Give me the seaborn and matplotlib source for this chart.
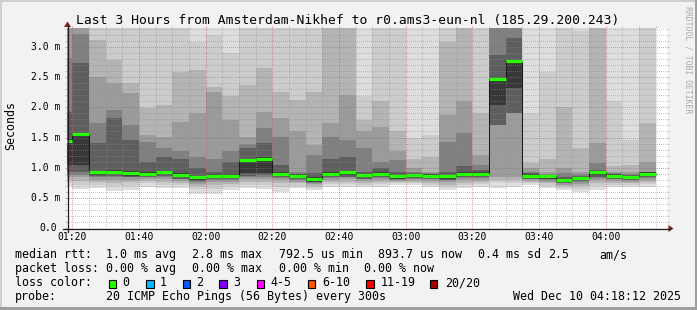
import numpy as np
import pandas as pd
import matplotlib
matplotlib.use("Agg")
import matplotlib.pyplot as plt
import seaborn as sns
from matplotlib.patches import Rectangle, Polygon
from matplotlib.lines import Line2D
import matplotlib.transforms as mtrans

# ---------------- data (values in ms) ----------------
interval_start = pd.date_range("2025-12-10 01:15", periods=36, freq="5min")

median_rtt = [1.45, 1.56, 0.92, 0.93, 0.91, 0.90, 0.93, 0.88, 0.84, 0.87, 0.87, 1.12,
              1.15, 0.90, 0.87, 0.81, 0.90, 0.92, 0.88, 0.90, 0.86, 0.88, 0.87, 0.86,
              0.90, 0.90, 2.47, 2.76, 0.87, 0.86, 0.80, 0.83, 0.92, 0.87, 0.85, 0.90]

# smoke bands, outermost (1) to innermost (7): upper and lower bounds
up1 = [3.4] * 36
up2 = [3.4, 3.4, 3.4, 3.4, 3.4, 3.4, 3.4, 3.4, 3.09, 3.20, 2.90, 3.4, 3.4, 3.4, 3.4, 3.4, 3.4, 3.4,
       2.18, 3.4, 3.4, 1.49, 1.54, 3.4, 3.4, 3.4, 3.4, 3.4, 1.90, 2.59, 3.4, 3.26, 3.4, 2.10, 1.46, 3.4]
up3 = [3.4, 3.4, 3.12, 2.79, 2.40, 1.99, 2.04, 2.59, 2.62, 2.34, 2.18, 2.37, 2.65, 2.26, 2.12, 2.26, 3.4, 3.4,
       1.79, 2.10, 1.60, 1.15, 1.18, 3.09, 3.4, 1.90, 3.4, 3.4, 1.07, 1.15, 2.01, 1.32, 3.4, 1.02, 1.04, 1.74]
up4 = [3.4, 3.4, 2.51, 2.40, 2.23, 1.54, 1.51, 1.76, 1.90, 2.26, 1.79, 1.51, 1.93, 1.82, 1.60, 1.38, 1.74, 2.21,
       1.60, 1.68, 1.27, 0.99, 0.93, 1.87, 2.10, 1.21, 3.4, 3.4, 0.99, 0.93, 0.99, 0.93, 1.41, 0.93, 0.93, 1.10]
up5 = [2.81, 3.21, 1.74, 1.96, 1.71, 1.43, 1.32, 1.27, 1.18, 1.15, 1.27, 1.40, 1.65, 1.51, 0.93, 1.21, 1.51, 1.46,
       1.32, 1.10, 1.13, 0.93, 0.91, 1.43, 1.57, 1.04, 3.4, 3.4, 0.93, 0.90, 0.91, 0.90, 1.07, 0.91, 0.90, 0.93]
up6 = [1.93, 2.74, 1.41, 1.82, 1.46, 1.10, 1.18, 1.15, 0.99, 0.93, 1.10, 1.32, 1.41, 1.04, 0.90, 0.91, 1.15, 1.18,
       0.93, 0.99, 0.93, 0.91, 0.89, 0.93, 1.02, 0.96, 2.87, 3.15, 0.91, 0.88, 0.85, 0.87, 0.96, 0.89, 0.88, 0.92]
up7 = [1.47, 1.58, 0.95, 0.96, 0.94, 0.92, 0.95, 0.91, 0.87, 0.89, 0.89, 1.14, 1.17, 0.92, 0.89, 0.84, 0.92, 0.94,
       0.90, 0.92, 0.88, 0.90, 0.89, 0.88, 0.92, 0.92, 2.49, 2.78, 0.89, 0.88, 0.82, 0.85, 0.94, 0.89, 0.87, 0.92]

lo7 = [1.04, 1.04, .88, .89, .87, .86, .89, .84, .80, .83, .83, .91, .91, .86, .83, .77, .86, .88,
       .84, .86, .82, .84, .83, .82, .86, .86, 2.04, 2.32, .83, .82, .76, .79, .88, .83, .81, .86]
lo6 = [.93, .93, .86, .86, .85, .85, .86, .82, .78, .81, .81, .87, .88, .84, .81, .76, .84, .85,
       .82, .84, .81, .83, .82, .80, .84, .84, 1.71, 1.90, .82, .81, .75, .78, .85, .82, .80, .84]
lo5 = [.88, .88, .84, .85, .84, .84, .85, .81, .77, .80, .80, .84, .85, .83, .80, .75, .83, .84,
       .81, .83, .80, .82, .81, .79, .83, .83, 1.71, 1.90, .81, .80, .74, .77, .83, .81, .79, .83]
lo4 = [.84, .84, .80, .80, .80, .81, .81, .78, .73, .76, .77, .81, .82, .79, .77, .73, .80, .81,
       .78, .80, .78, .79, .78, .76, .79, .80, .85, .85, .79, .77, .72, .73, .79, .78, .77, .80]
lo3 = [.80, .78, .77, .75, .76, .78, .77, .75, .69, .71, .73, .77, .77, .74, .74, .70, .77, .77,
       .75, .77, .76, .77, .75, .72, .75, .77, .80, .80, .77, .74, .70, .69, .74, .75, .74, .77]
lo2 = [.75, .72, .72, .70, .70, .74, .72, .71, .64, .65, .69, .72, .72, .68, .70, .67, .73, .73,
       .72, .73, .74, .74, .72, .68, .71, .73, .76, .75, .74, .70, .67, .65, .69, .72, .71, .73]
lo1 = [.70, .65, .66, .62, .63, .68, .66, .66, .57, .57, .63, .66, .64, .60, .66, .63, .68, .68,
       .68, .68, .71, .71, .68, .63, .66, .68, .66, .68, .71, .66, .63, .60, .63, .68, .68, .68]

y_tick_values = [0.0, 0.5, 1.0, 1.5, 2.0, 2.5, 3.0]
y_tick_labels = ["0.0", "0.5 m", "1.0 m", "1.5 m", "2.0 m", "2.5 m", "3.0 m"]
x_tick_labels = ["01:20", "01:40", "02:00", "02:20", "02:40", "03:00", "03:20", "03:40", "04:00"]

title = "Last 3 Hours from Amsterdam-Nikhef to r0.ams3-eun-nl (185.29.200.243)"
rtt_texts = ["median rtt:", "1.0 ms avg", "2.8 ms max", "792.5 us min", "893.7 us now",
             "0.4 ms sd", "2.5", "am/s"]
loss_texts = ["packet loss:", "0.00 % avg", "0.00 % max", "0.00 % min", "0.00 % now"]
loss_labels = ["0", "1", "2", "3", "4-5", "6-10", "11-19", "20/20"]
loss_colors = ["#26ff00", "#00b8ff", "#0059ff", "#7e00ff", "#ff00ff", "#ff5500", "#ff0000", "#a10000"]
probe_texts = ["probe:", "20 ICMP Echo Pings (56 Bytes) every 300s"]
stamp = "Wed Dec 10 04:18:12 2025"

# ---------------- figure ----------------
W, H = 697, 310
plt.rcParams["font.family"] = ["DejaVu Sans Mono"]
fig = plt.figure(figsize=(W / 100, H / 100), dpi=100, facecolor="#f2f2f2")

def fx(x):
    return x / W

def fy(y):
    return 1 - y / H

PX0, PX1, PY0, PY1 = 67, 667, 228, 28
ax = fig.add_axes([fx(PX0), fy(PY0), (PX1 - PX0) / W, (PY0 - PY1) / H])
ax.set_facecolor("#ffffff")

xs = (interval_start.hour * 60 + interval_start.minute).to_numpy(float)
edges = np.append(xs, xs[-1] + 5)
XMIN, XMAX = 78.4, 258.4
YMAX = 3.315
ax.set_xlim(XMIN, XMAX)
ax.set_ylim(0, YMAX)

def ext(a):
    a = np.asarray(a, float)
    return np.append(a, a[-1])

shades = ["#dddddd", "#cccccc", "#b4b4b4", "#9b9b9b", "#808080", "#5e5e5e", "#383838"]
for up, lo, c in zip([up1, up2, up3, up4, up5, up6, up7],
                     [lo1, lo2, lo3, lo4, lo5, lo6, lo7], shades):
    ax.fill_between(edges, ext(lo), ext(up), step="post", color=c, lw=0, zorder=1)

# median: thin dark step line + loss coloured segments
med_df = pd.DataFrame({"t": edges, "rtt": ext(median_rtt)})
sns.lineplot(data=med_df, x="t", y="rtt", drawstyle="steps-post", color="#1a1a1a",
             linewidth=0.75, ax=ax, zorder=4, legend=False)
ax.hlines(median_rtt, xs, xs + 5, colors=loss_colors[0], linewidth=2.3, zorder=5)

# grid (dotted, drawn over the smoke)
grid_c = (0.56, 0.56, 0.56, 0.45)
mgrid_c = (0.87, 0.31, 0.31, 0.55)
dash = (0, (1.0, 1.6))
for m in np.arange(80, XMAX, 5):
    major = (m % 20 == 0)
    ax.axvline(m, color=mgrid_c if major else grid_c, lw=0.72, ls=dash, zorder=3, antialiased=False)
for i in range(1, 34):
    v = i / 10
    major = (i % 5 == 0)
    ax.axhline(v, color=mgrid_c if major else grid_c, lw=0.72, ls=dash, zorder=3, antialiased=False)

for s in ax.spines.values():
    s.set_visible(False)
ax.set_xlabel("")
ax.set_ylabel("")
ax.set_xticks(np.arange(80, XMAX, 20))
ax.set_xticks(np.arange(80, XMAX, 5), minor=True)
ax.set_yticks(y_tick_values)
ax.set_yticks(np.arange(0.1, YMAX, 0.1), minor=True)
ax.tick_params(which="both", direction="out", labelleft=False, labelbottom=False,
               left=True, right=True, top=True, bottom=True, width=0.72)
ax.tick_params(which="major", length=1.5, color=mgrid_c)
ax.tick_params(which="minor", length=1.5, color=grid_c)

# axis lines and arrows
axis_c = "#1f1f1f"
arrow_c = "#801f1f"
fig.add_artist(Line2D([fx(63), fx(670)], [fy(228.5), fy(228.5)], color=axis_c, lw=0.9, transform=fig.transFigure))
fig.add_artist(Line2D([fx(67.5), fx(67.5)], [fy(232), fy(25)], color=axis_c, lw=0.9, transform=fig.transFigure))
fig.add_artist(Polygon([[fx(668.5), fy(225)], [fx(668.5), fy(232)], [fx(673.5), fy(228.5)]],
                       closed=True, color=arrow_c, transform=fig.transFigure, lw=0))
fig.add_artist(Polygon([[fx(64), fy(27)], [fx(71), fy(27)], [fx(67.5), fy(21.5)]],
                       closed=True, color=arrow_c, transform=fig.transFigure, lw=0))

# tick labels
tick_fs = 7.0
ytr = mtrans.blended_transform_factory(fig.transFigure, ax.transData)
for v, lab in zip(y_tick_values, y_tick_labels):
    xr = 57 if lab == "0.0" else 60.5
    fig.text(fx(xr), v, lab, transform=ytr, ha="right", va="center", fontsize=tick_fs)
xtr = mtrans.blended_transform_factory(ax.transData, fig.transFigure)
for m, lab in zip(np.arange(80, XMAX, 20), x_tick_labels):
    fig.text(m, fy(240), lab, transform=xtr, ha="center", va="baseline", fontsize=tick_fs)

# titles
fig.text(fx(347.2), fy(24), title, ha="center", va="baseline", fontsize=9.4)
fig.text(fx(10.8), fy(126), "Seconds", rotation=90, ha="center", va="center", fontsize=8.4)
fig.text(fx(688), fy(60), "RRDTOOL / TOBI OETIKER", rotation=270, ha="center", va="center",
         fontsize=5.9, color="#aaaaaa")

# legend block
lf = 8.4
for t, x in zip(rtt_texts, [16, 107, 193, 280, 379, 479, 549, 600]):
    fig.text(fx(x - 0.7), fy(258.3), t, ha="left", va="baseline", fontsize=lf)
for t, x in zip(loss_texts, [16, 107, 193, 280, 365]):
    fig.text(fx(x - 0.7), fy(272.3), t, ha="left", va="baseline", fontsize=lf)
fig.text(fx(16 - 0.7), fy(286.2), "loss color:", ha="left", va="baseline", fontsize=lf)
for lab, c, bx, tx in zip(loss_labels, loss_colors,
                          [108.5, 146, 182.5, 219.2, 256.8, 307.5, 366, 429.5],
                          [123.3, 160, 197.3, 234.3, 271.7, 322.7, 381, 445.7]):
    fig.add_artist(Rectangle((fx(bx), fy(287.5)), 7.5 / W, 8 / H, facecolor=c, edgecolor="black",
                             lw=0.8, transform=fig.transFigure))
    fig.text(fx(tx - 0.8), fy(286.2), lab, ha="left", va="baseline", fontsize=lf)
fig.text(fx(16 - 0.7), fy(300), probe_texts[0], ha="left", va="baseline", fontsize=lf)
fig.text(fx(107 - 0.7), fy(300), probe_texts[1], ha="left", va="baseline", fontsize=lf)
fig.text(fx(681), fy(300), stamp, ha="right", va="baseline", fontsize=lf)

# 3D frame
shadeA, shadeB = "#cfcfcf", "#9e9e9e"
fig.add_artist(Rectangle((0, 0), 2 / W, 1, facecolor=shadeA, lw=0, transform=fig.transFigure))
fig.add_artist(Rectangle((0, 1 - 2 / H), 1, 2 / H, facecolor=shadeA, lw=0, transform=fig.transFigure))
fig.add_artist(Rectangle((1 - 2 / W, 0), 2 / W, 1, facecolor=shadeB, lw=0, transform=fig.transFigure))
fig.add_artist(Rectangle((0, 0), 1, 3 / H, facecolor=shadeB, lw=0, transform=fig.transFigure))

fig.savefig("out.png", dpi=100, facecolor=fig.get_facecolor())
